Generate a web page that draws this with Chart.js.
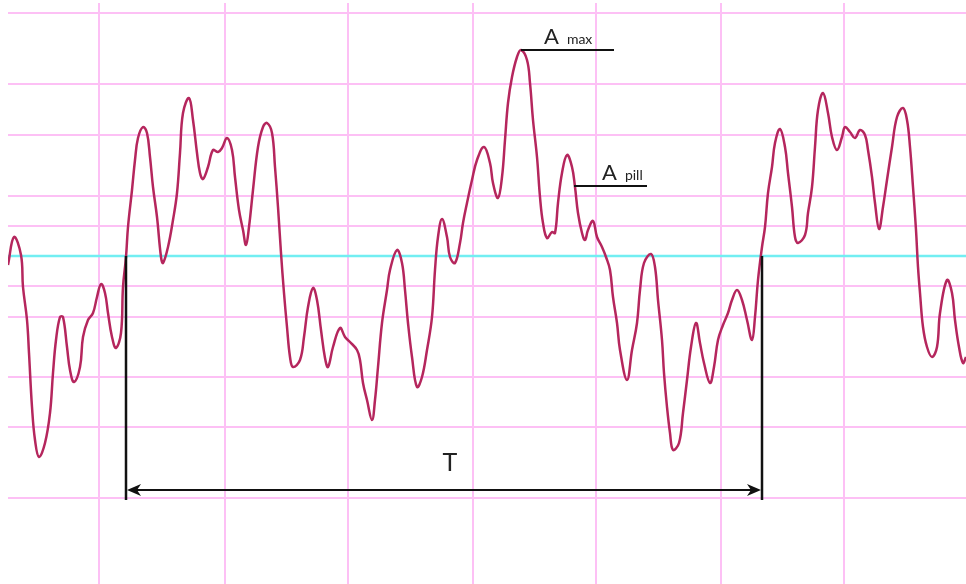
<!DOCTYPE html>
<html>
<head>
<meta charset="utf-8">
<style>
  html, body { margin: 0; padding: 0; background: #fff; }
  #wave { display: block; }
</style>
<script src="https://cdn.jsdelivr.net/npm/chart.js@4/dist/chart.umd.min.js"></script>
</head>
<body>
<canvas id="wave" width="966" height="584"></canvas>
<script>
// signal: time (samples) and amplitude (0 = cyan baseline)
const time = [
  8, 14, 21, 23, 27, 29, 32, 35, 39, 45, 50, 53, 56, 60, 63, 67, 70, 74, 80, 83,
  88, 93, 97, 101, 105, 108, 112, 116, 121, 123, 126, 128, 132, 135, 138, 143, 147, 150, 153, 157,
  161, 163, 168, 173, 177, 180, 183, 189, 193, 197, 200, 203, 208, 213, 218, 222, 227, 232, 235, 239,
  243, 246, 249, 253, 258, 263, 267, 272, 275, 278, 281, 284, 287, 290, 293, 300, 304, 308, 313, 317,
  321, 325, 328, 333, 340, 345, 350, 357, 360, 363, 367, 372, 375, 378, 382, 387, 390, 397, 402, 405,
  408, 412, 417, 422, 427, 432, 435, 438, 442, 447, 450, 455, 460, 463, 467, 472, 477, 484, 490, 493,
  498, 502, 505, 508, 512, 517, 521, 527, 530, 533, 537, 540, 543, 547, 552, 555, 558, 562, 567, 572,
  575, 578, 582, 585, 588, 593, 597, 602, 606, 610, 613, 617, 620, 627, 632, 637, 640, 644, 651, 655,
  658, 662, 664, 667, 670, 673, 679, 683, 687, 691, 696, 700, 704, 710, 714, 718, 723, 728, 732, 737,
  742, 747, 752, 755, 758, 762, 765, 768, 772, 775, 780, 785, 788, 792, 795, 798, 805, 808, 812, 815,
  818, 823, 828, 832, 837, 842, 845, 850, 855, 860, 865, 868, 872, 875, 879, 883, 887, 892, 897, 903,
  907, 910, 913, 916, 918, 920, 923, 927, 932, 937, 940, 947, 952, 955, 959, 963, 966
];
const amplitude = [
  -9, 19, 1, -31, -64, -97, -151, -184, -201, -187, -157, -117, -84, -61, -61, -91, -114, -126, -111, -81,
  -64, -57, -41, -28, -37, -57, -81, -92, -77, -31, -1, 29, 66, 96, 118, 129, 123, 99, 69, 39,
  -1, -7, 9, 36, 63, 103, 143, 158, 136, 103, 83, 77, 89, 106, 104, 108, 118, 106, 79, 46,
  26, 11, 29, 66, 109, 129, 133, 123, 89, 49, 3, -37, -71, -101, -111, -104, -81, -51, -32, -44,
  -74, -102, -111, -91, -72, -81, -86, -94, -104, -127, -144, -164, -144, -111, -67, -34, -14, 6, -7, -34,
  -67, -101, -131, -121, -94, -61, -14, 19, 37, 19, -1, -7, 13, 33, 53, 76, 96, 109, 93, 73,
  58, 79, 116, 153, 179, 199, 206, 196, 173, 136, 99, 59, 33, 18, 24, 23, 53, 83, 101, 89,
  69, 43, 23, 16, 26, 35, 19, 9, -1, -14, -41, -67, -94, -124, -94, -67, -34, -7, 2, -11,
  -44, -84, -117, -151, -177, -194, -187, -157, -124, -91, -67, -87, -107, -127, -111, -84, -69, -57, -44, -34,
  -44, -64, -84, -61, -24, 9, 29, 63, 89, 113, 127, 109, 83, 49, 19, 13, 21, 43, 69, 109,
  146, 163, 143, 119, 106, 119, 129, 124, 118, 126, 121, 106, 79, 53, 27, 49, 76, 109, 139, 148,
  136, 109, 69, 26, -11, -37, -71, -91, -101, -91, -57, -24, -37, -64, -91, -107, -101
];

// grid lines (tick values, labels hidden)
const timeTicks = [99, 225, 348, 473, 596, 721, 844];
const ampTicks = [243, 172, 121, 60, 30, 0, -30, -61, -121, -171, -242];

// period T between two baseline crossings
const periodBounds = [126, 762];
const periodLabel = 'T';

// amplitude marks: start time, end time of the leader, level
const markLabels = ['max', 'pill'];
const markStart = [521, 574];
const markEnd = [614, 647];
const markLevel = [206, 70];

(() => {
  const canvas = document.getElementById('wave');
  const ctx = canvas.getContext('2d');

  const labelFont = '"Lato", "Open Sans", sans-serif';

  function arrowHead(c, tipX, tipY, dir) {
    c.beginPath();
    c.moveTo(tipX, tipY);
    c.lineTo(tipX + dir * 14, tipY - 6);
    c.lineTo(tipX + dir * 10, tipY);
    c.lineTo(tipX + dir * 14, tipY + 6);
    c.closePath();
    c.fill();
  }

  // black marks and labels over the trace
  const notes = {
    id: 'notes',
    afterDatasetsDraw(chart) {
      const { ctx: c, scales: { x, y } } = chart;
      c.save();
      c.strokeStyle = '#111';
      c.fillStyle = '#111';

      const x1 = x.getPixelForValue(periodBounds[0]);
      const x2 = x.getPixelForValue(periodBounds[1]);
      const yTop = y.getPixelForValue(0);
      const yBot = y.getPixelForValue(-244);
      const yArrow = y.getPixelForValue(-234);

      c.lineWidth = 2.5;
      c.beginPath();
      c.moveTo(x1, yTop); c.lineTo(x1, yBot);
      c.moveTo(x2, yTop); c.lineTo(x2, yBot);
      c.stroke();

      c.lineWidth = 2;
      c.beginPath();
      c.moveTo(x1 + 6, yArrow); c.lineTo(x2 - 6, yArrow);
      c.stroke();
      arrowHead(c, x1 + 1, yArrow, 1);
      arrowHead(c, x2 - 1, yArrow, -1);

      c.fillStyle = '#222';
      c.font = '25px ' + labelFont;
      c.textAlign = 'center';
      c.textBaseline = 'alphabetic';
      c.fillText(periodLabel, (x1 + x2) / 2 + 6, y.getPixelForValue(-215));

      const textDx = [23, 28];
      c.textAlign = 'left';
      markLabels.forEach((sub, i) => {
        const xs = x.getPixelForValue(markStart[i]);
        const xe = x.getPixelForValue(markEnd[i]);
        const yl = y.getPixelForValue(markLevel[i]);
        c.strokeStyle = '#111';
        c.lineWidth = 2;
        c.beginPath();
        c.moveTo(xs, yl); c.lineTo(xe, yl);
        c.stroke();

        c.fillStyle = '#222';
        c.font = '22px ' + labelFont;
        const ax = xs + textDx[i];
        c.fillText('A', ax, yl - 6);
        const aw = c.measureText('A').width;
        c.font = '14px ' + labelFont;
        c.fillText(sub, ax + aw + 8, yl - 6);
      });
      c.restore();
    }
  };

  const gridColor = '#fdc0f5';

  window.waveChart = new Chart(ctx, {
    type: 'line',
    data: {
      datasets: [
        {
          data: time.map((t, i) => ({ x: t, y: amplitude[i] })),
          borderColor: '#b5265d',
          borderWidth: 2.5,
          pointRadius: 0,
          tension: 0.4,
          fill: false
        },
        {
          data: [{ x: 8, y: 0 }, { x: 966, y: 0 }],
          borderColor: '#72eef2',
          borderWidth: 2.5,
          pointRadius: 0,
          fill: false
        }
      ]
    },
    options: {
      responsive: false,
      animation: false,
      devicePixelRatio: 1,
      layout: { padding: { left: 8, top: 3, right: 0, bottom: 0 } },
      plugins: {
        legend: { display: false },
        tooltip: { enabled: false }
      },
      scales: {
        x: {
          type: 'linear',
          min: 8,
          max: 966,
          afterBuildTicks: s => { s.ticks = timeTicks.map(v => ({ value: v })); },
          ticks: { display: false },
          grid: { color: gridColor, lineWidth: 2, drawTicks: false },
          border: { display: false }
        },
        y: {
          type: 'linear',
          min: -328,
          max: 253,
          afterBuildTicks: s => { s.ticks = ampTicks.map(v => ({ value: v })); },
          ticks: { display: false },
          grid: { color: gridColor, lineWidth: 2, drawTicks: false },
          border: { display: false }
        }
      }
    },
    plugins: [notes]
  });
})();
</script>
</body>
</html>
